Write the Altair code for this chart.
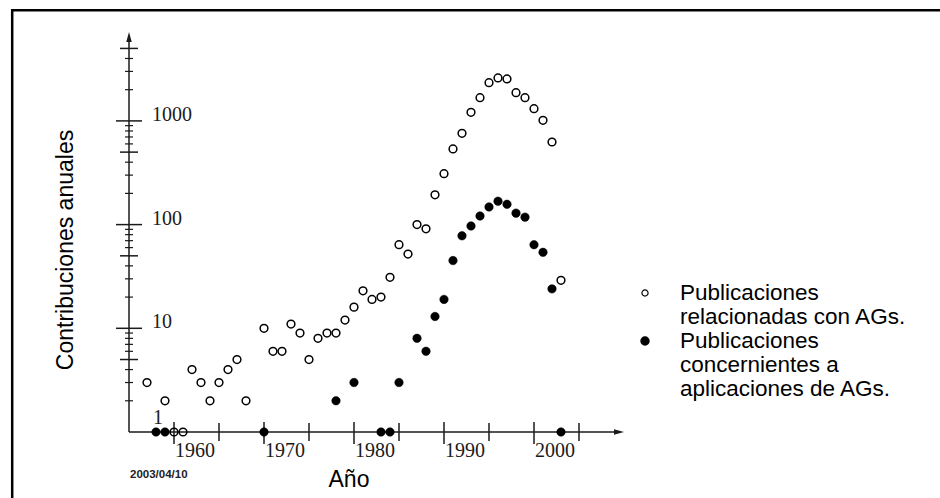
import altair as alt
import pandas as pd

# ---- data (0 = no publications that year) ----
rel_years = [1957, 1959, 1960, 1961, 1962, 1963, 1964, 1965, 1966, 1967, 1968,
             1970, 1971, 1972, 1973, 1974, 1975, 1976, 1977, 1978, 1979, 1980,
             1981, 1982, 1983, 1984, 1985, 1986, 1987, 1988, 1989, 1990, 1991,
             1992, 1993, 1994, 1995, 1996, 1997, 1998, 1999, 2000, 2001, 2002, 2003]
rel_counts = [3, 2, 0, 0, 4, 3, 2, 3, 4, 5, 2,
              10, 6, 6, 11, 9, 5, 8, 9, 9, 12, 16,
              23, 19, 20, 31, 64, 52, 100, 91, 194, 310, 536,
              759, 1211, 1674, 2335, 2593, 2536, 1871, 1674, 1312, 1014, 626, 29]

app_years = [1958, 1959, 1970, 1978, 1980, 1983, 1984, 1985, 1987, 1988, 1989,
             1990, 1991, 1992, 1993, 1994, 1995, 1996, 1997, 1998, 1999, 2000,
             2001, 2002, 2003]
app_counts = [0, 0, 0, 2, 3, 0, 0, 3, 8, 6, 13,
              19, 45, 78, 97, 121, 148, 168, 157, 129, 118, 64,
              54, 24, 0]

x_major = [1960, 1970, 1980, 1990, 2000]
x_minor = [1965, 1975, 1985, 1995, 2005]
y_major = [10, 100, 1000]
y_mid = [5, 50, 500, 5000]
y_minor = [2, 3, 4, 6, 7, 8, 9, 20, 30, 40, 60, 70, 80, 90,
           200, 300, 400, 600, 700, 800, 900, 2000, 3000, 4000]

legend_rel = ["Publicaciones", "relacionadas con AGs."]
legend_app = ["Publicaciones", "concernientes a", "aplicaciones de AGs."]
x_title = "Año"
y_title = "Contribuciones anuales"
stamp = "2003/04/10"

# ---- tables ----
rel_df = pd.DataFrame({"year": rel_years, "v": rel_counts})
app_df = pd.DataFrame({"year": app_years, "v": app_counts})
one = pd.DataFrame({"k": [0]})

xs = alt.Scale(domain=[1955, 2010], nice=False, zero=False)
ys = alt.Scale(type="log", domain=[1, 7200], nice=False)

SERIF = "Liberation Serif"
SANS = "Liberation Sans"
INK = "#1a1a1a"

def X(f="year"):
    return alt.X(f"{f}:Q", scale=xs, axis=None)

def Y(f="v"):
    return alt.Y(f"{f}:Q", scale=ys, axis=None)

# points (zero counts sit on the baseline, i.e. at 1 on the log axis)
open_pts = alt.Chart(rel_df).transform_calculate(vp="max(datum.v, 1)").mark_point(
    shape="circle", filled=False, stroke="black", strokeWidth=1.5, size=60, opacity=1
).encode(x=X(), y=Y("vp"))

filled_pts = alt.Chart(app_df).transform_calculate(vp="max(datum.v, 1)").mark_point(
    shape="circle", filled=True, fill="black", stroke="black", strokeWidth=0.5, size=72, opacity=1
).encode(x=X(), y=Y("vp"))

# axes drawn by hand
x_line = alt.Chart(one).mark_rule(color=INK, strokeWidth=1.5).encode(
    x=alt.value(0), x2=alt.value(490), y=alt.value(400))
y_line = alt.Chart(one).mark_rule(color=INK, strokeWidth=1.5).encode(
    x=alt.value(0), y=alt.value(400), y2=alt.value(5))
x_arrow = alt.Chart(one).mark_point(
    shape="M-1,-0.55L1,0L-1,0.55Z", filled=True, color=INK, size=100, opacity=1
).encode(x=alt.value(490), y=alt.value(400))
y_arrow = alt.Chart(one).mark_point(
    shape="M-0.55,1L0,-1L0.55,1Z", filled=True, color=INK, size=100, opacity=1
).encode(x=alt.value(0), y=alt.value(5))

xt_major = alt.Chart(pd.DataFrame({"year": x_major})).mark_rule(color=INK, strokeWidth=1.5).encode(
    x=X(), y=alt.value(390), y2=alt.value(412))
xt_minor = alt.Chart(pd.DataFrame({"year": x_minor})).mark_rule(color=INK, strokeWidth=1.5).encode(
    x=X(), y=alt.value(391), y2=alt.value(409))

yt_major = alt.Chart(pd.DataFrame({"v": y_major})).mark_rule(color=INK, strokeWidth=1.5).encode(
    y=Y(), x=alt.value(-13), x2=alt.value(13))
yt_mid = alt.Chart(pd.DataFrame({"v": y_mid})).mark_rule(color=INK, strokeWidth=1.5).encode(
    y=Y(), x=alt.value(-9), x2=alt.value(9))
yt_minor = alt.Chart(pd.DataFrame({"v": y_minor})).mark_rule(color=INK, strokeWidth=1.2).encode(
    y=Y(), x=alt.value(-4), x2=alt.value(4))

# tick labels
y_labels = alt.Chart(pd.DataFrame({"v": y_major})).mark_text(
    align="left", baseline="alphabetic", font=SERIF, fontSize=20, color=INK
).encode(y=Y(), x=alt.value(23), text=alt.Text("v:Q", format="d"))
y_label1 = alt.Chart(pd.DataFrame({"v": [1]})).mark_text(
    align="left", baseline="alphabetic", font=SERIF, fontSize=20, color=INK, dy=-8
).encode(y=Y(), x=alt.value(24), text=alt.Text("v:Q", format="d"))
x_labels = alt.Chart(pd.DataFrame({"year": x_major})).mark_text(
    align="left", baseline="alphabetic", font=SERIF, fontSize=20, color=INK, dx=1
).encode(x=X(), y=alt.value(424.5), text=alt.Text("year:Q", format="d"))

# titles and stamp
t_x = alt.Chart(one).mark_text(
    align="center", baseline="alphabetic", font=SANS, fontSize=23, color="black"
).encode(x=alt.value(220), y=alt.value(455), text=alt.value(x_title))
t_y = alt.Chart(one).mark_text(
    align="center", baseline="alphabetic", font=SANS, fontSize=23, color="black", angle=270
).encode(x=alt.value(-56), y=alt.value(218), text=alt.value(y_title))
t_stamp = alt.Chart(one).mark_text(
    align="left", baseline="alphabetic", font=SANS, fontSize=11.5, fontWeight="bold", color="#222"
).encode(x=alt.value(1), y=alt.value(446), text=alt.value(stamp))

# legend
lg_open = alt.Chart(one).mark_point(
    shape="circle", filled=False, stroke="black", strokeWidth=1.2, size=38, opacity=1
).encode(x=alt.value(516), y=alt.value(261))
lg_fill = alt.Chart(one).mark_point(
    shape="circle", filled=True, fill="black", stroke="black", size=55, opacity=1
).encode(x=alt.value(516), y=alt.value(309))
lg_t1 = alt.Chart(one).mark_text(
    align="left", baseline="middle", font=SANS, fontSize=22.5, lineHeight=24, color="black"
).encode(x=alt.value(551), y=alt.value(261), text=alt.value(legend_rel))
lg_t2 = alt.Chart(one).mark_text(
    align="left", baseline="middle", font=SANS, fontSize=22.5, lineHeight=24, color="black"
).encode(x=alt.value(551), y=alt.value(309), text=alt.value(legend_app))

# page frame (top and left edges)
frame_top = alt.Chart(one).mark_rule(color="black", strokeWidth=2.5).encode(
    x=alt.value(-118), x2=alt.value(811), y=alt.value(-21.7))
frame_left = alt.Chart(one).mark_rule(color="black", strokeWidth=2.5).encode(
    x=alt.value(-116.8), y=alt.value(-23), y2=alt.value(466))

chart = alt.layer(
    frame_top, frame_left,
    x_line, y_line, x_arrow, y_arrow,
    xt_major, xt_minor, yt_major, yt_mid, yt_minor,
    y_labels, y_label1, x_labels,
    open_pts, filled_pts,
    t_x, t_y, t_stamp,
    lg_open, lg_fill, lg_t1, lg_t2,
).properties(
    width=495, height=400,
    autosize=alt.AutoSizeParams(type="none"),
    padding={"left": 129, "top": 32, "right": 316, "bottom": 66},
    background="white",
).configure_view(stroke=None)

chart.save("out.html", embed_options={"renderer": "svg", "actions": False})
